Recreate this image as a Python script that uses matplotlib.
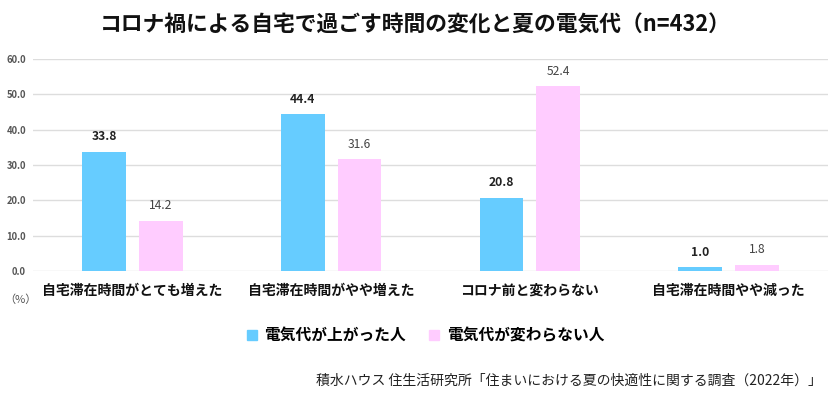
import matplotlib
matplotlib.use('Agg')
import matplotlib.pyplot as plt
from matplotlib.lines import Line2D
import numpy as np

plt.rcParams['font.family'] = ['Noto Sans CJK JP', 'DejaVu Sans']

# data
categories = ['自宅滞在時間がとても増えた', '自宅滞在時間がやや増えた',
              'コロナ前と変わらない', '自宅滞在時間やや減った']
up = [33.8, 44.4, 20.8, 1.0]
same = [14.2, 31.6, 52.4, 1.8]
series_names = ['電気代が上がった人', '電気代が変わらない人']
yticks = [0, 10, 20, 30, 40, 50, 60]

blue = '#66CCFF'
pink = '#FFCCFF'

fig = plt.figure(figsize=(8.4, 3.99), dpi=100)
ax = fig.add_axes([33/840, 1-271/399, (828-33)/840, (271-59)/399])

x = np.arange(len(categories))
w = 0.22
off = 0.143
b1 = ax.bar(x - off, up, w, color=blue, zorder=3)
b2 = ax.bar(x + off, same, w, color=pink, zorder=3)

for xi, v in zip(x, up):
    ax.annotate(f'{v:.1f}', (xi - off, v), xytext=(0, 6), textcoords='offset points',
                ha='center', va='bottom', fontsize=8.7, fontweight='bold', color='#222222')
for xi, v in zip(x, same):
    ax.annotate(f'{v:.1f}', (xi + off, v), xytext=(0, 6), textcoords='offset points',
                ha='center', va='bottom', fontsize=8.7, color='#444444')

ax.set_xlim(-0.5, 3.5)
ax.set_ylim(0, 60)
ax.set_yticks(yticks)
ax.set_yticklabels([f'{t:.1f}' for t in yticks], fontsize=6.8, color='#555555', fontweight='bold')
ax.set_xticks(x)
ax.set_xticklabels(categories, fontsize=10, fontweight='bold', color='#111111')
ax.tick_params(axis='both', length=0)
ax.tick_params(axis='y', pad=5)
ax.tick_params(axis='x', pad=9)
ax.grid(axis='y', color='#DDDDDD', lw=1, zorder=0)
for s in ax.spines.values():
    s.set_visible(False)

fig.text(20/840, 1-300/399, '（%）', fontsize=8, color='#555555', ha='center', va='center')

fig.text(415/840, 1-25/399, 'コロナ禍による自宅で過ごす時間の変化と夏の電気代（n=432）',
         fontsize=15.7, fontweight='bold', ha='center', va='center', color='#111111')

handles = [Line2D([], [], marker='s', ls='', markersize=7, color=blue),
           Line2D([], [], marker='s', ls='', markersize=7, color=pink)]
leg = fig.legend(handles, series_names, loc='center', bbox_to_anchor=(425/840, 1-335/399),
                 ncol=2, frameon=False, handlelength=0.8, handletextpad=0.4,
                 columnspacing=1.4, prop={'size': 11.3, 'weight': 'bold'})

fig.text(822/840, 1-381/399, '積水ハウス 住生活研究所「住まいにおける夏の快適性に関する調査（2022年）」',
         fontsize=10, ha='right', va='center', color='#222222')

fig.savefig('out.png', dpi=100)
